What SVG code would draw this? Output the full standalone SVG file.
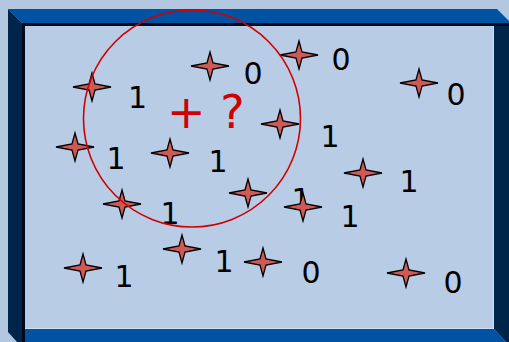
<svg xmlns="http://www.w3.org/2000/svg" xmlns:xlink="http://www.w3.org/1999/xlink" width="509" height="342" viewBox="0 0 509 342">
<style>
.lbl{font-family:"DejaVu Sans",Verdana,sans-serif;font-size:30px;fill:#000;text-anchor:middle}
.star{fill:#cf5a55;stroke:#000;stroke-width:1.3;stroke-linejoin:miter}
</style>
<defs>
<path id="st" class="star" d="M0,-14 L3,-3 L19,0 L3,3 L0,14 L-3,3 L-19,0 L-3,-3 Z"/>
</defs>
<rect x="0" y="0" width="509" height="342" fill="#b3c7e1"/>
<g id="frame">
<rect x="25" y="26" width="469" height="303" fill="#b9cce5"/>
<polygon points="8,9 497,9 511,23 22,23" fill="#0052a3"/>
<polygon points="8,9 22,23 22,342 17,342 8,332" fill="#00254a"/>
<rect x="22" y="23" width="487" height="3" fill="#000a1a"/>
<rect x="22" y="23" width="3" height="319" fill="#000a1a"/>
<polygon points="494,26 509,26 509,342 506,342 494,329" fill="#00254a"/>
<polygon points="25,329 494,329 506,342 25,342" fill="#0052a3"/>
<line x1="493.5" y1="26" x2="493.5" y2="329" stroke="#d3def0" stroke-width="1"/>
<line x1="25" y1="328.5" x2="494" y2="328.5" stroke="#d3def0" stroke-width="1"/>
</g>
<g id="nodes">
<g id="n1"><use xlink:href="#st" x="92" y="87"/><text class="lbl" x="137.5" y="108">1</text></g>
<g id="n2"><use xlink:href="#st" x="210" y="66"/><text class="lbl" x="253" y="84">0</text></g>
<g id="n3"><use xlink:href="#st" x="299" y="55"/><text class="lbl" x="341" y="70">0</text></g>
<g id="n4"><use xlink:href="#st" x="419" y="83"/><text class="lbl" x="456" y="105">0</text></g>
<g id="n5"><use xlink:href="#st" x="75" y="147"/><text class="lbl" x="116" y="169">1</text></g>
<g id="n6"><use xlink:href="#st" x="170" y="153"/><text class="lbl" x="218" y="172">1</text></g>
<g id="n7"><use xlink:href="#st" x="280" y="124"/><text class="lbl" x="330" y="147">1</text></g>
<g id="n8"><use xlink:href="#st" x="363" y="173"/><text class="lbl" x="409" y="192">1</text></g>
<g id="n9"><use xlink:href="#st" x="248" y="193"/><text class="lbl" x="301" y="210">1</text></g>
<g id="n10"><use xlink:href="#st" x="303" y="207"/><text class="lbl" x="350" y="227">1</text></g>
<g id="n11"><use xlink:href="#st" x="122" y="204"/><text class="lbl" x="170" y="224">1</text></g>
<g id="n12"><use xlink:href="#st" x="182" y="249"/><text class="lbl" x="224" y="272">1</text></g>
<g id="n13"><use xlink:href="#st" x="263" y="262"/><text class="lbl" x="311" y="283">0</text></g>
<g id="n14"><use xlink:href="#st" x="83" y="268"/><text class="lbl" x="124" y="287">1</text></g>
<g id="n15"><use xlink:href="#st" x="406" y="273"/><text class="lbl" x="453" y="293">0</text></g>
</g>
<g id="query">
<circle cx="192" cy="118.5" r="108.5" fill="none" stroke="#d00000" stroke-width="1.6"/>
<text x="167" y="128" font-family="DejaVu Sans,Verdana,sans-serif" font-size="46" fill="#d00000">+ ?</text>
</g>
<g id="connectors"/>
</svg>
